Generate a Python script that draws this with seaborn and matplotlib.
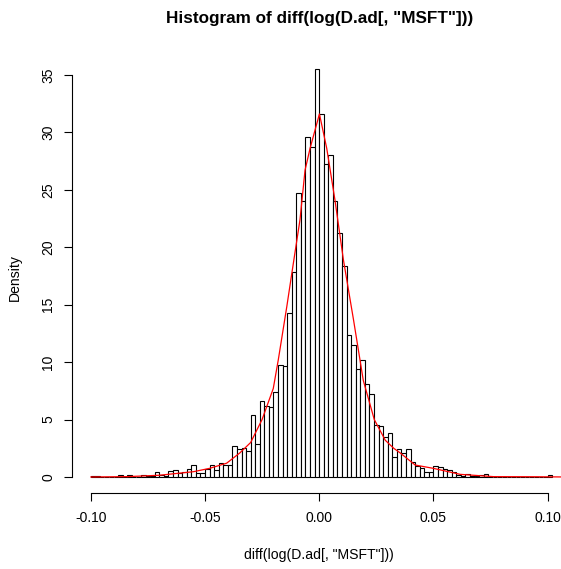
import numpy as np
import pandas as pd
import matplotlib
matplotlib.use("Agg")
import matplotlib.pyplot as plt
import seaborn as sns

sns.set_style("white")
plt.rcParams['font.family'] = ['Liberation Sans', 'DejaVu Sans']
plt.rcParams['text.color'] = 'black'
plt.rcParams['axes.labelcolor'] = 'black'
plt.rcParams['xtick.color'] = 'black'
plt.rcParams['ytick.color'] = 'black'

# histogram: bins of width 0.002 starting at -0.10, density
bin_start = -0.10
bin_width = 0.002
density = [
    0.1, 0.1, 0.0, 0.0, 0.0, 0.0, 0.2, 0.0, 0.2, 0.0,      # -0.100 .. -0.082
    0.0, 0.2, 0.1, 0.1, 0.4, 0.2, 0.1, 0.5, 0.64, 0.35,    # -0.080 .. -0.062
    0.4, 0.7, 1.0, 0.35, 0.35, 0.7, 1.0, 0.6, 1.2, 1.0,    # -0.060 .. -0.042
    1.0, 2.7, 2.4, 2.5, 2.3, 5.4, 2.9, 6.6, 6.2, 6.1,      # -0.040 .. -0.022
    7.4, 9.75, 9.65, 14.3, 17.8, 24.7, 24.0, 29.6, 28.7, 35.5,  # -0.020 .. -0.002
    31.6, 27.2, 28.0, 24.0, 21.2, 18.4, 12.4, 11.5, 9.4, 10.2,  # 0.000 .. 0.018
    8.1, 7.2, 4.5, 4.4, 3.45, 3.8, 1.7, 2.4, 2.1, 2.4,     # 0.020 .. 0.038
    1.3, 0.95, 0.75, 0.46, 0.46, 0.93, 0.84, 0.67, 0.6, 0.43,  # 0.040 .. 0.058
    0.2, 0.12, 0.3, 0.1, 0.1, 0.15, 0.3, 0.0, 0.0, 0.0,    # 0.060 .. 0.078
    0.0, 0.0, 0.0, 0.0, 0.0, 0.0, 0.0, 0.0, 0.0, 0.0,      # 0.080 .. 0.098
    0.15,                                                  # 0.100
]

# red density curve
curve_x = [-0.100, -0.084, -0.070, -0.055, -0.048, -0.0405, -0.0347, -0.030,
           -0.025, -0.0201, -0.0179, -0.0142, -0.012, -0.0084, -0.0062, -0.004,
           0.0001, 0.0033, 0.0069, 0.0106, 0.015, 0.0193, 0.0241, 0.0289,
           0.0326, 0.0354, 0.042, 0.050, 0.0617, 0.0763, 0.095, 0.108]
curve_y = [0.0, 0.03, 0.15, 0.46, 0.75, 1.2, 2.1, 3.0,
           5.0, 7.7, 10.2, 14.8, 17.7, 22.4, 26.7, 28.6,
           31.6, 28.6, 24.1, 18.9, 13.7, 8.4, 5.0, 3.2,
           2.5, 2.1, 1.04, 0.75, 0.23, 0.03, 0.02, 0.0]

n_bins = len(density)
centers = [bin_start + bin_width * (i + 0.5) for i in range(n_bins)]
hist_df = pd.DataFrame({"x": centers, "density": density})

fig = plt.figure(figsize=(5.61, 5.69), dpi=100)
ax = fig.add_axes([72.4 / 561, 75.7 / 569, 493.6 / 561, 440.5 / 569])

sns.histplot(data=hist_df, x="x", weights="density", binwidth=bin_width,
             binrange=(bin_start, bin_start + bin_width * n_bins), stat="count",
             color="white", edgecolor="black", linewidth=0.8, alpha=1, ax=ax)
sns.lineplot(x=curve_x, y=curve_y, color="red", linewidth=0.9, ax=ax)

ax.set_xlim(-0.108, 0.108)
ax.set_ylim(-1.42, 36.92)

ax.set_xticks([-0.10, -0.05, 0.0, 0.05, 0.10])
ax.set_xticklabels(["-0.10", "-0.05", "0.00", "0.05", "0.10"])
ax.set_yticks(range(0, 40, 5))
ax.set_yticklabels([str(v) for v in range(0, 40, 5)], rotation=90, va="center")
ax.tick_params(axis="both", direction="out", length=5.5, width=0.8,
               color="black", labelcolor="black", labelsize=10, pad=7,
               bottom=True, left=True)

for side in ["top", "right"]:
    ax.spines[side].set_visible(False)
ax.spines["bottom"].set_bounds(-0.10, 0.10)
ax.spines["left"].set_bounds(0, 35)
for side in ["bottom", "left"]:
    ax.spines[side].set_linewidth(0.8)
    ax.spines[side].set_color("black")

ax.set_xlabel('diff(log(D.ad[, "MSFT"]))', fontsize=10.1, color="black")
ax.xaxis.set_label_coords(0.499, -0.125)
ax.set_ylabel("Density", fontsize=10.1, color="black")
ax.yaxis.set_label_coords(-0.103, 0.49)

fig.text(319.2 / 561, 1 - 18.5 / 569, 'Histogram of diff(log(D.ad[, "MSFT"]))',
         ha="center", va="center", fontsize=12.3, fontweight="bold", color="black")

fig.savefig("out.png", dpi=100, facecolor="white")
